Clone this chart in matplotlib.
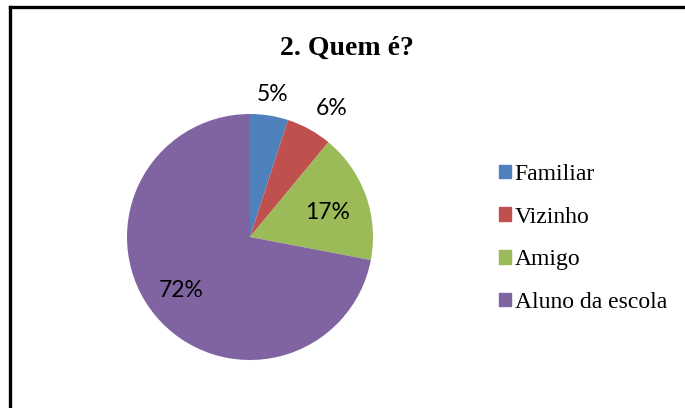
import matplotlib
matplotlib.use("Agg")
import matplotlib.pyplot as plt
import matplotlib.patches as mpatches
from matplotlib.lines import Line2D
import numpy as np

# dados do gráfico
categorias = ["Familiar", "Vizinho", "Amigo", "Aluno da escola"]
valores = [5, 6, 17, 72]
rotulos = ["5%", "6%", "17%", "72%"]
cores = ["#4F81BD", "#C0504D", "#9BBB59", "#8064A2"]
dist_rotulo = [1.17, 1.24, 0.66, 0.71]   # distância do rótulo ao centro (em raios)
desvio_ang = [0, -3.5, -2.5, -2]          # pequeno desvio angular do rótulo (graus)

W, H = 685, 408
fig = plt.figure(figsize=(W / 100, H / 100), dpi=100)
fig.patch.set_facecolor("white")

# eixo só da pizza (centro ~ (250,237), raio ~123 px)
cx, cy, r = 250, 237, 123
ax = fig.add_axes([(cx - r) / W, (H - cy - r) / H, 2 * r / W, 2 * r / H])
wedges, _ = ax.pie(valores, colors=cores, startangle=90, counterclock=False,
                   radius=1.0, wedgeprops=dict(linewidth=0))
ax.set_xlim(-1, 1); ax.set_ylim(-1, 1)
ax.axis("off")

for w, txt, d, da in zip(wedges, rotulos, dist_rotulo, desvio_ang):
    ang = np.deg2rad((w.theta1 + w.theta2) / 2 + da)
    ax.text(d * np.cos(ang), d * np.sin(ang), txt, ha="center", va="center",
            fontsize=16.5, family="Lato", color="black", clip_on=False)

fig.text(347 / W, 1 - 48 / H, "2. Quem é?", ha="center", va="center",
         fontsize=20, fontweight="bold", family="Liberation Serif")

handles = [mpatches.Patch(color=c, label=l) for c, l in zip(cores, categorias)]
leg = fig.legend(handles=handles, loc="upper left", bbox_to_anchor=(499 / W, 1 - 164 / H),
                 frameon=False, prop=dict(family="Liberation Serif", size=17),
                 handlelength=0.5, handleheight=0.5, handletextpad=0.17,
                 labelspacing=0.915, borderaxespad=0, borderpad=0)

# moldura (esquerda e topo)
fig.add_artist(Line2D([10 / W, 10 / W], [0, 1 - 7 / H], color="black", lw=2.4,
                      transform=fig.transFigure))
fig.add_artist(Line2D([10 / W, 1], [1 - 7 / H, 1 - 7 / H], color="black", lw=2.4,
                      transform=fig.transFigure))

fig.savefig("out.png", dpi=100)
